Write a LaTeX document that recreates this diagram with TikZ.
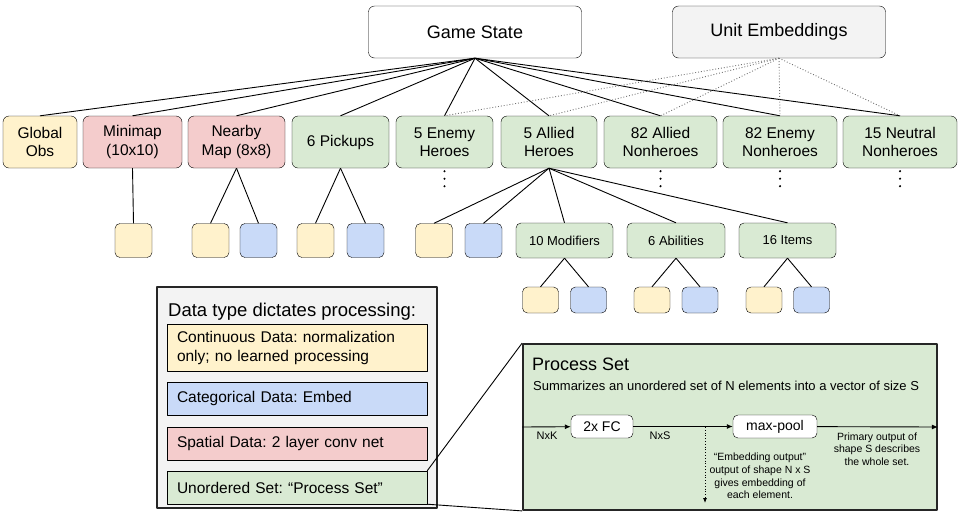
\documentclass[tikz,border=0pt]{standalone}
\usepackage{fontspec}
\setmainfont{Liberation Sans}
\usetikzlibrary{arrows.meta}
\frenchspacing

\definecolor{contfill}{HTML}{FFF2CC}
\definecolor{catfill}{HTML}{C9DAF8}
\definecolor{spatfill}{HTML}{F4CCCC}
\definecolor{setfill}{HTML}{D9EAD3}
\definecolor{panefill}{HTML}{F3F3F3}

\begin{document}
\begin{tikzpicture}[x=1pt, y=-1pt, line join=round,
	every node/.style={inner sep=0pt},
	topbox/.style={draw, rounded corners=6pt, minimum width=213pt, minimum height=52pt, font=\fontsize{18}{21}\selectfont},
	cbox/.style={draw, rounded corners=6pt, minimum height=52pt, align=center, font=\fontsize{15.5}{18.5}\selectfont},
	leafbox/.style={draw, rounded corners=5pt, minimum width=37pt, minimum height=34pt},
	tinybox/.style={draw, rounded corners=5pt, minimum width=36pt, minimum height=26pt},
	subbox/.style={draw, rounded corners=5pt, minimum height=35pt, fill=setfill, font=\fontsize{13}{15}\selectfont},
	keybox/.style={draw, inner xsep=10pt, text width=240pt, align=left, font=\fontsize{15.5}{19}\selectfont},
	bigpane/.style={draw=black!85, line width=1.8pt},
	opbox/.style={draw, fill=white, rounded corners=5pt, minimum height=23pt, font=\fontsize{14}{16}\selectfont},
	link/.style={line width=0.9pt},
	emblink/.style={line width=0.9pt, dotted, black!55},
	flow/.style={line width=0.9pt, -{Latex[length=6pt,width=5pt]}},
	note/.style={font=\fontsize{10.5}{12.6}\selectfont, align=center}]
	\useasboundingbox (0,0) rectangle (959,515);

	% top level
	\node[topbox, fill=white] (gs) at (475,32) {Game State};
	\node[topbox, fill=panefill] (ue) at (779,32) {Unit Embeddings};

	% observation groups
	\node[cbox, fill=contfill, minimum width=74pt] (glob) at (40,142) {Global\\Obs};
	\node[cbox, fill=spatfill, minimum width=99pt] (mini) at (132.5,142) {Minimap\\(10x10)};
	\node[cbox, fill=spatfill, minimum width=97pt] (near) at (236.5,142) {Nearby\\Map (8x8)};
	\node[cbox, fill=setfill, minimum width=97pt] (pick) at (340.5,142) {6 Pickups};
	\node[cbox, fill=setfill, minimum width=97pt] (ehero) at (444.5,142) {5 Enemy\\Heroes};
	\node[cbox, fill=setfill, minimum width=96pt] (ahero) at (549,142) {5 Allied\\Heroes};
	\node[cbox, fill=setfill, minimum width=113pt] (anon) at (660.5,142) {82 Allied\\Nonheroes};
	\node[cbox, fill=setfill, minimum width=114pt] (enon) at (780,142) {82 Enemy\\Nonheroes};
	\node[cbox, fill=setfill, minimum width=114pt] (nnon) at (900,142) {15 Neutral\\Nonheroes};

	\foreach \n in {glob,mini,near,pick,ehero,ahero,anon,enon,nnon}
		\draw[link] (gs.south) -- (\n.north);
	\foreach \n in {ehero,ahero,anon,enon,nnon}
		\draw[emblink] (ue.south) -- (\n.north);
	\foreach \n in {ehero,anon,enon,nnon}
		\foreach \d in {3,10.5,18}
			\fill ([yshift=-\d pt]\n.south) circle (1.2);

	% second level
	\node[leafbox, fill=contfill] (mini-c) at (133.5,240.5) {};
	\node[leafbox, fill=contfill] (near-c) at (210.5,240.5) {};
	\node[leafbox, fill=catfill] (near-e) at (258.5,240.5) {};
	\node[leafbox, fill=contfill] (pick-c) at (315.5,240.5) {};
	\node[leafbox, fill=catfill] (pick-e) at (365.5,240.5) {};
	\node[leafbox, fill=contfill] (ahero-c) at (434,240.5) {};
	\node[leafbox, fill=catfill] (ahero-e) at (483.5,240.5) {};
	\node[subbox, minimum width=97pt] (mods) at (564.5,240.5) {10 Modifiers};
	\node[subbox, minimum width=98pt] (abil) at (676,240.5) {6 Abilities};
	\node[subbox, minimum width=97pt] (items) at (787.5,240.5) {16 Items};

	\draw[link] (mini.south) -- (mini-c.north);
	\draw[link] (near.south) -- (near-c.north);
	\draw[link] (near.south) -- (near-e.north);
	\draw[link] (pick.south) -- (pick-c.north);
	\draw[link] (pick.south) -- (pick-e.north);
	\foreach \n in {ahero-c,ahero-e,mods,abil,items}
		\draw[link] (ahero.south) -- (\n.north);

	% third level
	\node[tinybox, fill=contfill] (mods-c) at (540.5,300) {};
	\node[tinybox, fill=catfill] (mods-e) at (588.5,300) {};
	\node[tinybox, fill=contfill] (abil-c) at (652,300) {};
	\node[tinybox, fill=catfill] (abil-e) at (700,300) {};
	\node[tinybox, fill=contfill] (items-c) at (764,300) {};
	\node[tinybox, fill=catfill] (items-e) at (811.5,300) {};
	\foreach \n in {mods,abil,items} {
		\draw[link] (\n.south) -- (\n-c.north);
		\draw[link] (\n.south) -- (\n-e.north);
	}

	% legend
	\node[bigpane, fill=panefill, minimum width=280pt, minimum height=221pt] (key) at (297,397.5) {};
	\node[anchor=base west, font=\fontsize{18.5}{21}\selectfont] (keytitle) at (168,316) {Data type dictates processing:};
	\node[keybox, fill=contfill, minimum height=47pt] (cont) at (297,347.5) {Continuous Data: normalization\\only; no learned processing};
	\node[keybox, fill=catfill, minimum height=33pt] (catg) at (297,398.5) {Categorical Data: Embed};
	\node[keybox, fill=spatfill, minimum height=33pt] (spat) at (297,443.5) {Spatial Data: 2 layer conv net};
	\node[keybox, fill=setfill, minimum height=33pt] (unord) at (297,487.5) {Unordered Set: “Process Set”};

	% process set detail
	\node[bigpane, fill=setfill, minimum width=414pt, minimum height=166pt] (ps) at (730,427) {};
	\draw[link] (unord.north east) -- (ps.north west);
	\draw[link] (unord.south east) -- (ps.south west);
	\node[anchor=base west, font=\fontsize{18}{21}\selectfont] (pstitle) at (532,370) {Process Set};
	\node[anchor=base west, font=\fontsize{13}{15}\selectfont] (pssub) at (533,390) {Summarizes an unordered set of N elements into a vector of size S};

	\node[opbox, minimum width=62pt] (fc) at (602,426.5) {2x FC};
	\node[opbox, minimum width=84pt] (mp) at (775,426.5) {max-pool};
	\draw[flow] (ps.west) -- (fc);
	\draw[flow] (fc) -- (mp);
	\draw[flow] (mp) -- (ps.east);
	\node[font=\fontsize{11}{13}\selectfont] (nxk) at (547,436) {NxK};
	\node[font=\fontsize{11}{13}\selectfont] (nxs) at (660,436) {NxS};

	\coordinate (tap) at (705,427);
	\coordinate (tapend) at (705,503);
	\draw[line width=0.8pt, dotted, -{Latex[length=5pt,width=4pt]}] (tap) -- (tapend);
	\node[note] (embnote) at (760,476) {“Embedding output”\\output of shape N x S\\gives embedding of\\each element.};
	\node[note] (outnote) at (877,449) {Primary output of\\shape S describes\\the whole set.};
\end{tikzpicture}
\end{document}
